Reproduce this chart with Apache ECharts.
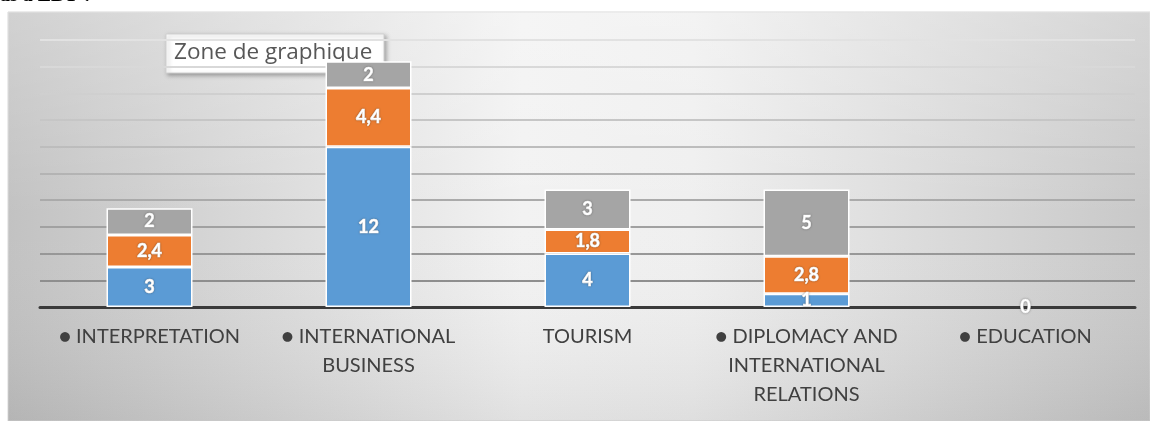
<!DOCTYPE html>
<html>
<head>
<meta charset="utf-8">
<script src="https://cdn.jsdelivr.net/npm/echarts@6/dist/echarts.min.js"></script>
<style>
  html, body { margin: 0; padding: 0; background: #ffffff; }
  #chart { width: 1150px; height: 421px; }
</style>
</head>
<body>
<div id="chart"></div>
<script>
// Fields of study and the three stacked answer groups
const categories = [
  '● INTERPRETATION',
  '● INTERNATIONAL\nBUSINESS',
  'TOURISM',
  '● DIPLOMACY AND\nINTERNATIONAL\nRELATIONS',
  '● EDUCATION'
];
const seriesBlue = [3, 12, 4, 1, 0];
const seriesOrange = [2.4, 4.4, 1.8, 2.8, null];
const seriesGrey = [2, 2, 3, 5, null];

const yMin = 0;
const yMax = 20;
const yStep = 2;

const chart = echarts.init(document.getElementById('chart'), null, { renderer: 'canvas' });

const fontFamily = 'Lato, "Open Sans", sans-serif';

function fmt(v) {
  return String(v).replace('.', ',');
}

function barSeries(name, values, color) {
  // zero-height segments keep their label but draw no outline
  const data = values.map(v => (v === 0 ? { value: 0, itemStyle: { borderWidth: 0 } } : v));
  return {
    name: name,
    type: 'bar',
    stack: 'total',
    data: data,
    barWidth: 86,
    itemStyle: { color: color, borderColor: '#ffffff', borderWidth: 1.5 },
    label: {
      show: true,
      position: 'inside',
      color: '#ffffff',
      fontFamily: fontFamily,
      fontWeight: 'bold',
      fontSize: 18,
      formatter: p => (p.value === null || p.value === undefined ? '' : fmt(p.value)),
      textBorderColor: '#ffffff',
      textBorderWidth: 0.7,
      textShadowColor: 'rgba(0,0,0,0.35)',
      textShadowBlur: 2
    }
  };
}

const option = {
  animation: false,
  backgroundColor: '#ffffff',
  graphic: [
    {
      type: 'rect',
      z: -10,
      shape: { x: 8, y: 12, width: 1142, height: 409 },
      style: {
        fill: new echarts.graphic.LinearGradient(0, 0, 1, 0, [
          { offset: 0, color: '#c2c2c2' },
          { offset: 0.45, color: '#f2f2f2' },
          { offset: 0.6, color: '#efefef' },
          { offset: 1, color: '#c8c8c8' }
        ]),
        stroke: '#d9d9d9',
        lineWidth: 1
      },
      silent: true
    },
    {
      type: 'rect',
      z: -9,
      shape: { x: 8, y: 12, width: 1142, height: 409 },
      style: {
        fill: new echarts.graphic.LinearGradient(0, 0, 0, 1, [
          { offset: 0, color: 'rgba(255,255,255,0.25)' },
          { offset: 0.5, color: 'rgba(255,255,255,0)' },
          { offset: 1, color: 'rgba(0,0,0,0.07)' }
        ])
      },
      silent: true
    },
    {
      type: 'text',
      x: 0,
      y: -14,
      style: {
        text: 'as à EBT ?',
        fill: '#000000',
        font: 'bold 20px "Liberation Serif", serif'
      },
      silent: true
    },
    {
      type: 'group',
      x: 166,
      y: 34,
      z: 100,
      children: [
        {
          type: 'rect',
          shape: { x: 0, y: 0, width: 218, height: 39 },
          style: {
            fill: '#ffffff',
            stroke: '#d0d0d0',
            lineWidth: 1,
            shadowBlur: 4,
            shadowOffsetX: 2,
            shadowOffsetY: 2,
            shadowColor: 'rgba(0,0,0,0.3)'
          }
        },
        {
          type: 'text',
          style: {
            x: 8,
            y: 19,
            text: 'Zone de graphique',
            fill: '#575757',
            verticalAlign: 'middle',
            font: '22.5px "Open Sans", sans-serif'
          }
        }
      ]
    }
  ],
  grid: {
    left: 40,
    right: 15,
    top: 40,
    bottom: 114,
    containLabel: false
  },
  xAxis: {
    type: 'category',
    data: categories,
    axisLine: { show: true, lineStyle: { color: '#3a3a3a', width: 3 } },
    axisTick: { show: false },
    axisLabel: {
      interval: 0,
      color: '#404040',
      fontFamily: fontFamily,
      fontSize: 20,
      lineHeight: 29,
      margin: 15,
      align: 'center'
    }
  },
  yAxis: {
    type: 'value',
    min: yMin,
    max: yMax,
    interval: yStep,
    axisLine: { show: false },
    axisTick: { show: false },
    axisLabel: { show: false },
    splitLine: {
      show: true,
      lineStyle: {
        width: 2,
        color: new echarts.graphic.LinearGradient(0, 40, 0, 307, [
          { offset: 0, color: '#e2e2e2' },
          { offset: 1, color: '#858585' }
        ], true)
      }
    }
  },
  series: [
    barSeries('A', seriesBlue, '#5b9bd5'),
    barSeries('B', seriesOrange, '#ed7d31'),
    barSeries('C', seriesGrey, '#a5a5a5')
  ]
};

chart.setOption(option);
</script>
</body>
</html>
